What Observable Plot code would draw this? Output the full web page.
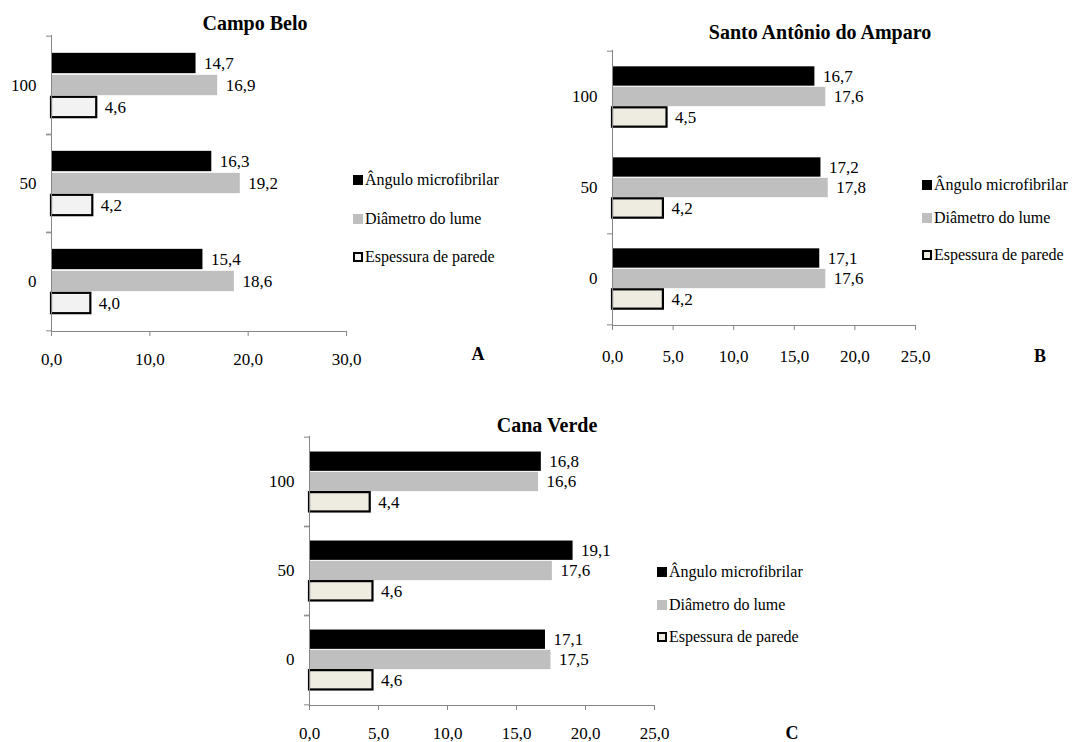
<!DOCTYPE html>
<html><head><meta charset="utf-8">
<script src="https://cdn.jsdelivr.net/npm/d3@7"></script>
<script src="https://cdn.jsdelivr.net/npm/@observablehq/plot@0.6"></script>
<style>
body{margin:0;background:#fff;font-family:"Liberation Serif","Times New Roman",serif;color:#000;}
#root{position:relative;width:1077px;height:742px;overflow:hidden;background:#fff;}
.abs{position:absolute;}
.title{font-weight:bold;font-size:20px;transform:translate(-50%,-50%);white-space:nowrap;line-height:1;}
.letter{font-weight:bold;font-size:18px;transform:translate(-50%,-50%);line-height:1;}
.leg{font-size:16px;white-space:nowrap;display:flex;align-items:center;transform:translateY(-50%);line-height:1;}
.sw{width:10px;height:10px;margin-right:2px;box-sizing:border-box;flex:none;}
</style></head><body><div id="root"></div>
<script>
// ---- data ----
const categories = ["100", "50", "0"];
const series = ["Ângulo microfibrilar", "Diâmetro do lume", "Espessura de parede"];

const campoBeloAngulo = [14.7, 16.3, 15.4];
const campoBeloDiametro = [16.9, 19.2, 18.6];
const campoBeloEspessura = [4.6, 4.2, 4.0];

const santoAntonioAngulo = [16.7, 17.2, 17.1];
const santoAntonioDiametro = [17.6, 17.8, 17.6];
const santoAntonioEspessura = [4.5, 4.2, 4.2];

const canaVerdeAngulo = [16.8, 19.1, 17.1];
const canaVerdeDiametro = [16.6, 17.6, 17.5];
const canaVerdeEspessura = [4.4, 4.6, 4.6];

const ticks30 = [0, 10, 20, 30];
const ticks25 = [0, 5, 10, 15, 20, 25];

// ---- layout ----
const panels = [
  {title: "Campo Belo", letter: "A", values: [campoBeloAngulo, campoBeloDiametro, campoBeloEspessura],
   left: 0, top: 0, width: 540, height: 370, mt: 35, mb: 39, ml: 51, mr: 194,
   domain: [0, 30], ticks: ticks30, barH: 21, gap: 1, xPad: 16.5, whiteFill: "#f2f2f2",
   topTicks: categories, bottomTicks: categories,
   tx: 255, ty: 23, legX: 353, legY: [180, 219, 257], lx: 478, ly: 354},
  {title: "Santo Antônio do Amparo", letter: "B", values: [santoAntonioAngulo, santoAntonioDiametro, santoAntonioEspessura],
   left: 560, top: 0, width: 517, height: 370, mt: 50, mb: 45, ml: 52, mr: 162,
   domain: [0, 25], ticks: ticks25, barH: 20, gap: 0.5, xPad: 19.5, whiteFill: "#eeece1",
   topTicks: ["100"], bottomTicks: ["50", "0"],
   tx: 820, ty: 32, legX: 922, legY: [185, 218, 255], lx: 1040, ly: 356},
  {title: "Cana Verde", letter: "C", values: [canaVerdeAngulo, canaVerdeDiametro, canaVerdeEspessura],
   left: 260, top: 400, width: 540, height: 342, mt: 36, mb: 37, ml: 49, mr: 146,
   domain: [0, 25], ticks: ticks25, barH: 20, gap: 0.3, xPad: 16.5, whiteFill: "#eeece1",
   topTicks: categories, bottomTicks: categories,
   tx: 547, ty: 425, legX: 657, legY: [572, 605, 637], lx: 792, ly: 733}
];

const fmt = d => d.toFixed(1).replace(".", ",");
const axisGray = "#868686";
const root = document.getElementById("root");

function add(cls, x, y, html) {
  const d = document.createElement("div");
  d.className = "abs " + cls;
  d.style.left = x + "px"; d.style.top = y + "px";
  if (html !== undefined) d.innerHTML = html;
  root.appendChild(d);
  return d;
}

for (const p of panels) {
  const fills = ["#000000", "#bfbfbf", p.whiteFill];
  const strokes = [null, null, "#000000"];
  const rows = [];
  series.forEach((s, i) => categories.forEach((c, j) => rows.push({cat: c, series: s, si: i, value: p.values[i][j]})));
  const step = (p.height - p.mt - p.mb) / categories.length;
  const outer = (step - 3 * p.barH - 2 * p.gap) / 2;
  const marks = [];
  series.forEach((s, i) => {
    const insetTop = outer + i * (p.barH + p.gap);
    const insetBottom = step - insetTop - p.barH;
    const sub = rows.filter(r => r.si === i);
    marks.push(Plot.barX(sub, {
      x: "value", y: "cat", fill: fills[i],
      stroke: strokes[i] || "none", strokeWidth: strokes[i] ? 2.2 : 0,
      insetTop, insetBottom
    }));
    marks.push(Plot.text(sub, {
      x: "value", y: "cat", text: d => fmt(d.value), dx: 8,
      dy: insetTop + p.barH / 2 - step / 2, textAnchor: "start", fontSize: 17, fill: "#000"
    }));
  });
  marks.push(Plot.frame({anchor: "left", stroke: axisGray}));
  marks.push(Plot.frame({anchor: "bottom", stroke: axisGray}));
  marks.push(Plot.axisX({ticks: p.ticks, tickFormat: fmt, tickSize: 5, tickPadding: p.xPad, stroke: axisGray, fill: "#000", fontSize: 17}));
  marks.push(Plot.axisY({tickSize: 0, tickPadding: 15, fontSize: 17, fill: "#000"}));
  marks.push(Plot.axisY({ticks: p.topTicks, tickSize: 5, tickFormat: () => "", stroke: axisGray, dy: -step / 2}));
  marks.push(Plot.axisY({ticks: p.bottomTicks, tickSize: 5, tickFormat: () => "", stroke: axisGray, dy: step / 2}));

  const chart = Plot.plot({
    width: p.width, height: p.height,
    marginTop: p.mt, marginBottom: p.mb, marginLeft: p.ml, marginRight: p.mr,
    x: {domain: p.domain, label: null},
    y: {domain: categories, padding: 0, label: null},
    style: {fontFamily: "'Liberation Serif','Times New Roman',serif", color: "#000", background: "transparent", overflow: "visible"},
    marks
  });
  const holder = add("", p.left, p.top);
  holder.appendChild(chart);

  add("title", p.tx, p.ty, p.title);
  add("letter", p.lx, p.ly, p.letter);
  series.forEach((s, i) => {
    const border = strokes[i] ? "border:2px solid #000;" : "";
    add("leg", p.legX, p.legY[i], `<span class="sw" style="background:${fills[i]};${border}"></span><span>${s}</span>`);
  });
}
</script>
</body></html>
